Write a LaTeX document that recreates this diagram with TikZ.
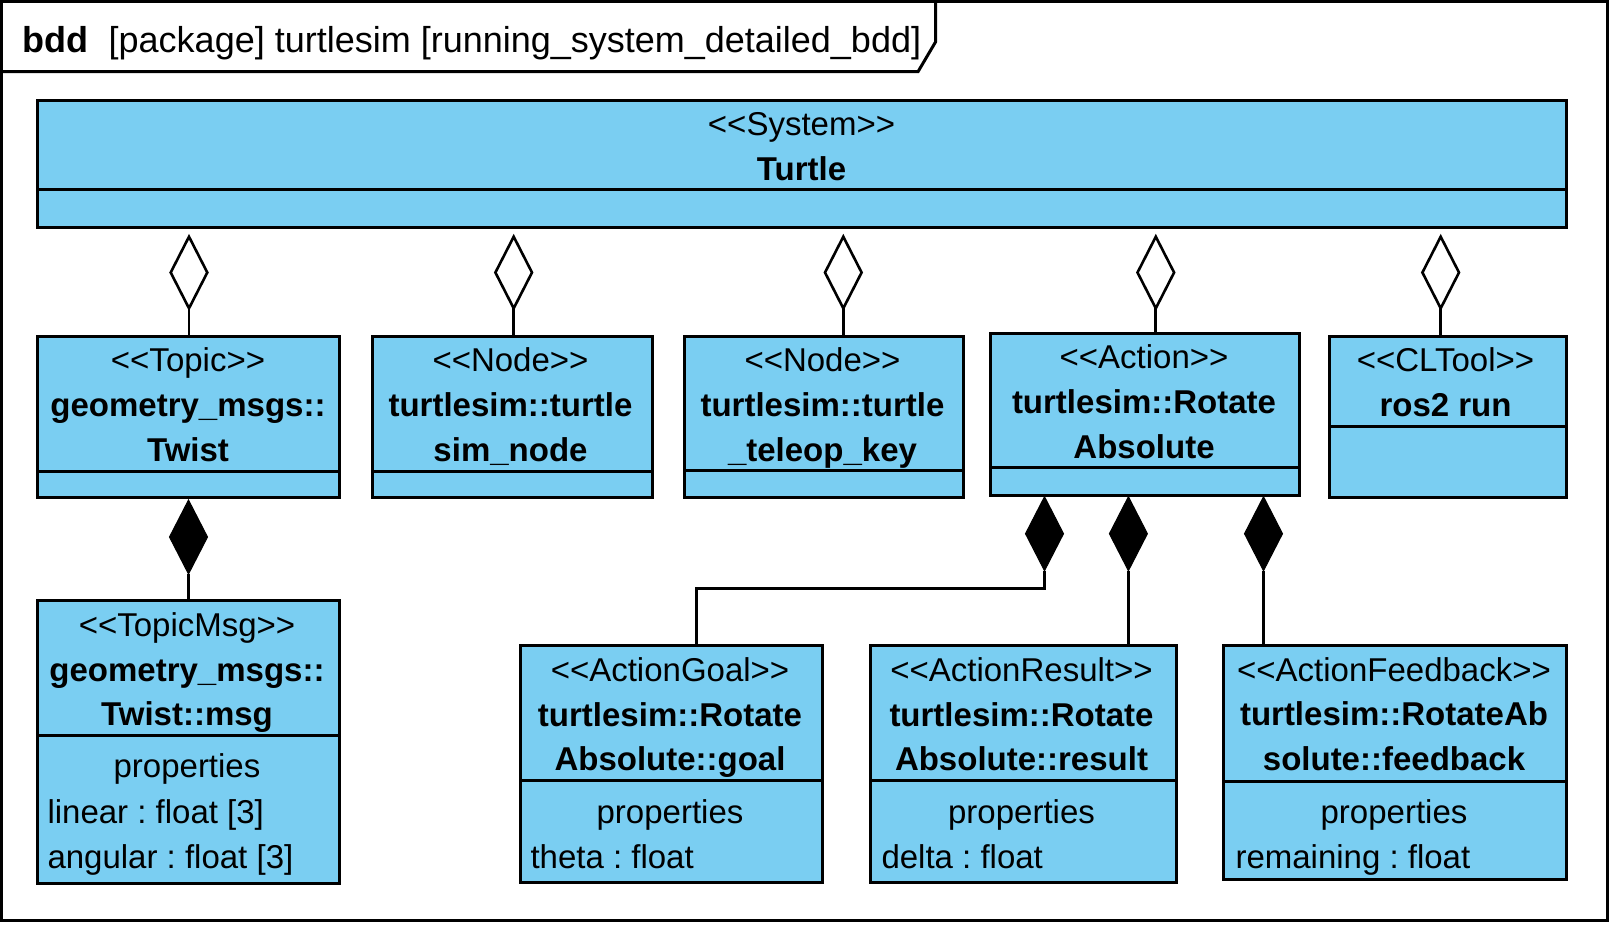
\documentclass[tikz,border=0pt]{standalone}
\usepackage{fontspec}
\setmainfont{Liberation Sans}
\usetikzlibrary{shapes.geometric}
\definecolor{boxblue}{RGB}{122,206,242}
\newcommand{\umlst}[1]{<\kern0pt<#1>\kern0pt>}
\frenchspacing
\tikzset{
  frameline/.style={line width=3pt, line join=miter},
  classbox/.style={draw=black, fill=boxblue, line width=3pt, inner sep=0pt, outer sep=0pt, anchor=north west},
  divline/.style={line width=3pt},
  stxt/.style={inner sep=0pt, outer sep=0pt, anchor=base, font=\fontsize{33}{39}\selectfont},
  btxt/.style={inner sep=0pt, outer sep=0pt, anchor=base, font=\fontsize{33}{39}\selectfont\bfseries},
  ptxt/.style={inner sep=0pt, outer sep=0pt, anchor=base west, font=\fontsize{33}{39}\selectfont},
  aggd/.style={diamond, draw=black, fill=white, line width=2.6pt, minimum width=36.6pt, minimum height=71.6pt, inner sep=0pt, outer sep=0pt},
  compd/.style={diamond, draw=black, fill=black, line width=1pt, minimum width=38pt, minimum height=74pt, inner sep=0pt, outer sep=0pt},
  conn/.style={line width=2.8pt},
}
\begin{document}
\begin{tikzpicture}[x=1pt,y=-1pt]
\useasboundingbox (0,0) rectangle (1611,924);
% frame
\draw[frameline] (1.5,1.5) rectangle (1607.5,920.5);
\draw[frameline] (1.5,71.7) -- (918,71.7) -- (935.5,42) -- (935.5,1.5);
\node[inner sep=0pt, anchor=base west, font=\fontsize{36}{40}\selectfont\bfseries] (ttlA) at (22.7,52.5) {bdd};
\node[inner sep=0pt, anchor=base west, font=\fontsize{36}{40}\selectfont] (ttlB) at (108.5,52.5) {[package] turtlesim [running\_system\_detailed\_bdd]};

% Turtle
\node[classbox, minimum width=1529pt, minimum height=127.5pt] (turtle) at (37,100) {};
\draw[divline] (turtle.west |- 0,189) -- (turtle.east |- 0,189);
\node[stxt] (turtleS) at (801.5,135.5) {\umlst{System}};
\node[btxt] (turtleN) at (801.5,180.5) {Turtle};

% Topic
\node[classbox, minimum width=302pt, minimum height=161.5pt] (topic) at (37,336) {};
\draw[divline] (topic.west |- 0,471) -- (topic.east |- 0,471);
\node[stxt] (topicS) at (188,371.5) {\umlst{Topic}};
\node[btxt] (topicN1) at (188,416.5) {geometry\_msgs::};
\node[btxt] (topicN2) at (188,461) {Twist};

% Node 1
\node[classbox, minimum width=280pt, minimum height=161.5pt] (nodeA) at (372,336) {};
\draw[divline] (nodeA.west |- 0,471) -- (nodeA.east |- 0,471);
\node[stxt] (nodeAS) at (510.5,371.5) {\umlst{Node}};
\node[btxt] (nodeAN1) at (510.5,416.5) {turtlesim::turtle};
\node[btxt] (nodeAN2) at (510.5,461) {sim\_node};

% Node 2
\node[classbox, minimum width=279pt, minimum height=161.5pt] (nodeB) at (684.3,336) {};
\draw[divline] (nodeB.west |- 0,470.7) -- (nodeB.east |- 0,470.7);
\node[stxt] (nodeBS) at (822.5,371.5) {\umlst{Node}};
\node[btxt] (nodeBN1) at (822.5,416.5) {turtlesim::turtle};
\node[btxt] (nodeBN2) at (822.5,461) {\_teleop\_key};

% Action
\node[classbox, minimum width=309.5pt, minimum height=162.5pt] (action) at (990,333.3) {};
\draw[divline] (action.west |- 0,467.7) -- (action.east |- 0,467.7);
\node[stxt] (actionS) at (1144,368.5) {\umlst{Action}};
\node[btxt] (actionN1) at (1144,413.5) {turtlesim::Rotate};
\node[btxt] (actionN2) at (1144,458) {Absolute};

% CLTool
\node[classbox, minimum width=236.7pt, minimum height=161.7pt] (cltool) at (1329.3,336) {};
\draw[divline] (cltool.west |- 0,426.7) -- (cltool.east |- 0,426.7);
\node[stxt] (cltoolS) at (1445.5,371.7) {\umlst{CLTool}};
\node[btxt] (cltoolN) at (1445.5,416.7) {ros2 run};

% TopicMsg
\node[classbox, minimum width=302pt, minimum height=282.5pt] (tmsg) at (37,600.5) {};
\draw[divline] (tmsg.west |- 0,735.3) -- (tmsg.east |- 0,735.3);
\node[stxt] (tmsgS) at (187,636) {\umlst{TopicMsg}};
\node[btxt] (tmsgN1) at (187,681) {geometry\_msgs::};
\node[btxt] (tmsgN2) at (187,725.5) {Twist::msg};
\node[stxt] (tmsgP) at (187,777) {properties};
\node[ptxt] (tmsgA1) at (47.5,823) {linear : float [3]};
\node[ptxt] (tmsgA2) at (47.5,868.5) {angular : float [3]};

% Goal
\node[classbox, minimum width=302pt, minimum height=237pt] (goal) at (520,645.7) {};
\draw[divline] (goal.west |- 0,780.7) -- (goal.east |- 0,780.7);
\node[stxt] (goalS) at (670,681) {\umlst{ActionGoal}};
\node[btxt] (goalN1) at (670,726) {turtlesim::Rotate};
\node[btxt] (goalN2) at (670,770.3) {Absolute::goal};
\node[stxt] (goalP) at (670,823) {properties};
\node[ptxt] (goalA1) at (530.5,868) {theta : float};

% Result
\node[classbox, minimum width=306pt, minimum height=237pt] (result) at (870,645.7) {};
\draw[divline] (result.west |- 0,780.7) -- (result.east |- 0,780.7);
\node[stxt] (resultS) at (1021.5,681) {\umlst{ActionResult}};
\node[btxt] (resultN1) at (1021.5,726) {turtlesim::Rotate};
\node[btxt] (resultN2) at (1021.5,770.3) {Absolute::result};
\node[stxt] (resultP) at (1021.5,823) {properties};
\node[ptxt] (resultA1) at (881.5,868) {delta : float};

% Feedback
\node[classbox, minimum width=342.4pt, minimum height=234pt] (feedback) at (1223.6,645) {};
\draw[divline] (feedback.west |- 0,781) -- (feedback.east |- 0,781);
\node[stxt] (feedbackS) at (1394,681.5) {\umlst{ActionFeedback}};
\node[btxt] (feedbackN1) at (1394,725.5) {turtlesim::RotateAb};
\node[btxt] (feedbackN2) at (1394,770) {solute::feedback};
\node[stxt] (feedbackP) at (1394,823) {properties};
\node[ptxt] (feedbackA1) at (1235.5,868) {remaining : float};

% aggregation (hollow diamonds at Turtle)
\node[aggd] (agA) at (189,272.5) {};
\node[aggd] (agB) at (513.7,272.5) {};
\node[aggd] (agC) at (843.3,272.5) {};
\node[aggd] (agD) at (1155.8,272.5) {};
\node[aggd] (agE) at (1440.7,272.5) {};
\draw[conn] (agA.south) -- (agA.south |- topic.north);
\draw[conn] (agB.south) -- (agB.south |- nodeA.north);
\draw[conn] (agC.south) -- (agC.south |- nodeB.north);
\draw[conn] (agD.south) -- (agD.south |- action.north);
\draw[conn] (agE.south) -- (agE.south |- cltool.north);

% composition (filled diamonds)
\node[compd] (cpA) at (188.5,537) {};
\node[compd] (cpB) at (1044.5,533.7) {};
\node[compd] (cpC) at (1128.4,533.7) {};
\node[compd] (cpD) at (1263.5,533.7) {};
\coordinate (elbowA) at (1044.5,588.3);
\coordinate (elbowB) at (696.6,588.3);
\draw[conn] (cpA.south) -- (cpA.south |- tmsg.north);
\draw[conn] (cpB.south) -- (elbowA) -- (elbowB) -- (elbowB |- goal.north);
\draw[conn] (cpC.south) -- (cpC.south |- result.north);
\draw[conn] (cpD.south) -- (cpD.south |- feedback.north);
\end{tikzpicture}
\end{document}
